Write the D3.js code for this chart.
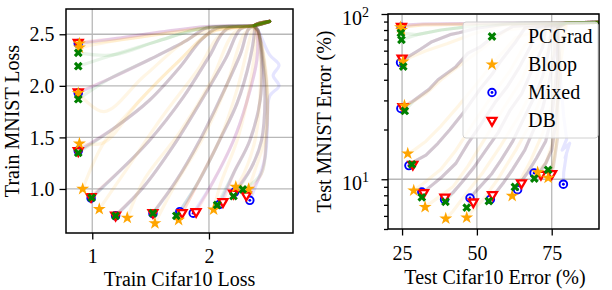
<!DOCTYPE html>
<html><head><meta charset="utf-8">
<script src="https://cdn.jsdelivr.net/npm/d3@7"></script>
<style>body{margin:0;background:#fff} svg{display:block}</style>
</head><body>
<svg id="c" width="612" height="290"></svg>
<script>
// ---------- DATA ----------
const methods = ["PCGrad", "Bloop", "Mixed", "DB"];
const methodColors = {PCGrad: "green", Bloop: "orange", Mixed: "blue", DB: "red"};

// Left panel: train losses (x: Cifar10, y: MNIST)
const leftXTicks = [1, 2];
const leftYTicks = [1.0, 1.5, 2.0, 2.5];
const leftStart = [[2.52, 2.625], [2.39, 2.585]];
const leftPaths = [
  [[1.98, 2.575], [1.58, 2.52], [1.21, 2.46]],
  [[1.95, 2.56], [1.55, 2.43], [1.18, 2.3]],
  [[1.98, 2.56], [1.81, 2.44], [1.5, 2.26], [1.15, 2.07]],
  [[2.07, 2.56], [1.93, 2.44], [1.75, 2.18], [1.49, 1.86], [1.2, 1.6]],
  [[2.15, 2.55], [2.0, 2.28], [1.78, 1.89], [1.49, 1.47], [1.24, 1.18]],
  [[2.27, 2.55], [2.15, 2.28], [1.92, 1.83], [1.69, 1.41], [1.44, 1.02]],
  [[2.34, 2.55], [2.27, 2.31], [2.09, 1.86], [1.92, 1.47], [1.72, 1.08]],
  [[2.39, 2.53], [2.35, 2.25], [2.24, 1.83], [2.09, 1.47], [1.92, 1.09]],
  [[2.41, 2.53], [2.41, 2.25], [2.32, 1.83], [2.21, 1.47], [2.04, 1.08]],
  [[2.42, 2.53], [2.45, 2.25], [2.44, 1.87], [2.35, 1.47], [2.21, 1.15]],
  [[2.42, 2.54], [2.46, 2.25], [2.48, 1.87], [2.45, 1.47], [2.36, 1.2]],
  [[2.42, 2.54], [2.47, 2.25], [2.5, 1.87], [2.49, 1.47], [2.45, 1.15]],
  [[2.42, 2.54], [2.52, 2.3], [2.6, 2.2], [2.55, 2.1], [2.6, 2.0], [2.52, 1.9], [2.5, 1.6], [2.48, 1.3]]
];
// Bloop follows its own, slightly lower/left routes
const leftBloopPaths = [
  [[1.98, 2.56], [1.58, 2.5], [1.21, 2.44]],
  [[1.9, 2.5], [1.45, 2.1], [1.1, 1.75]],
  [[2.02, 2.52], [1.75, 2.25], [1.4, 1.85], [1.1, 1.45]],
  [[2.12, 2.52], [1.9, 2.15], [1.6, 1.7], [1.3, 1.2]],
  [[2.22, 2.52], [2.02, 2.05], [1.75, 1.55], [1.45, 1.1]],
  [[2.3, 2.5], [2.15, 2.0], [1.95, 1.5], [1.7, 1.02]],
  [[2.36, 2.5], [2.25, 2.0], [2.1, 1.5], [1.9, 1.05]],
  [[2.4, 2.5], [2.35, 2.0], [2.25, 1.5], [2.1, 1.05]],
  [[2.42, 2.5], [2.44, 2.0], [2.4, 1.5], [2.3, 1.15]],
  [[2.43, 2.5], [2.5, 2.0], [2.48, 1.5], [2.4, 1.2]]
];
// [x, y, path index]
const leftPCGrad = [[0.88,2.32,1],[0.88,2.19,1],[0.88,1.87,2],[0.88,1.35,3],[0.995,0.915,4],[1.2,0.74,5],[1.52,0.765,6],[1.72,0.74,7],[2.07,0.845,9],[2.21,0.93,10],[2.29,0.995,11]];
const leftBloop = [[0.89,2.41,0],[0.89,2.37,0],[0.88,1.93,1],[0.89,1.44,2],[0.918,1.0,2],[1.06,0.805,3],[1.3,0.72,4],[1.537,0.667,5],[1.74,0.70,6],[2.04,0.80,7],[2.23,1.02,8],[2.34,1.0,9]];
const leftMixed = [[0.88,2.41,0],[0.88,1.93,2],[0.88,1.37,3],[0.99,0.91,4],[1.2,0.74,5],[1.52,0.76,6],[1.75,0.78,7],[1.865,0.765,8],[2.09,0.85,9],[2.22,0.97,10],[2.35,0.89,12]];
const leftDB = [[0.88,2.42,0],[0.88,1.94,2],[0.88,1.37,3],[0.99,0.925,4],[1.2,0.745,5],[1.52,0.77,6],[1.77,0.77,7],[1.89,0.78,8],[2.12,0.876,9],[2.21,0.958,10],[2.32,0.94,11]];

// Right panel: test errors (%), y log
const rightXTicks = [25, 50, 75];
const rightYMajor = [10, 100];
const rightYMajorExp = ["1", "2"];
const rightYMinor = [5, 6, 7, 8, 9, 20, 30, 40, 50, 60, 70, 80, 90];
const rightStart = [[91, 89], [80, 88.5]];
const rightPaths = [
  [[60, 88], [45, 87.5], [32, 87], [27, 86]],
  [[65, 88], [50, 85], [38, 80], [30, 75]],
  [[60, 87], [50, 82], [44, 77], [41, 75], [35, 68], [31, 61], [27, 55]],
  [[62, 84], [55, 72], [51, 63], [47, 58], [43, 48], [37, 40], [34, 35], [29, 30]],
  [[66, 82], [63, 68], [58, 52], [55, 43], [51, 35], [46, 26], [41, 20], [37, 16.5], [33, 14], [29, 12.8]],
  [[70, 82], [68, 64], [64, 47], [60, 36], [56, 29], [51, 21], [47, 16.5], [43, 12.5], [38, 10.2], [34, 8.9]],
  [[73, 83], [72, 63], [68, 44], [65, 33], [61, 26], [57, 19], [53, 15], [49, 11.8], [45, 9.6], [42, 8.3]],
  [[75, 83], [74, 60], [72, 42], [69, 31], [66, 24], [62, 17], [58, 13], [55, 10.8], [51, 9.0], [49, 8.2]],
  [[76, 83], [76, 57], [74, 38], [72, 27], [69, 20], [66, 15], [62, 11.5], [59, 9.6], [57, 8.6]],
  [[77, 83], [77, 52], [76, 34], [75, 24], [73, 17], [70, 13.5], [67, 11], [65, 9.8]],
  [[77, 82], [77, 47], [77, 30], [76, 20], [75, 15], [73, 12.5], [71.5, 11.4]],
  [[77, 82], [78, 44], [77, 28], [77, 18], [76, 13.5], [75.5, 11.8]],
  [[77, 82], [78, 40], [79, 24], [80, 17.5], [78.5, 15], [81, 16.5], [79.5, 13.5], [80, 14.5], [79, 11]]
];
const rightBloopPaths = [
  [[60, 87], [45, 86.5], [32, 86], [27, 84]],
  [[58, 85], [48, 75], [40, 66], [33, 60], [28, 55]],
  [[60, 80], [52, 62], [45, 50], [38, 40], [33, 33], [28, 29]],
  [[63, 72], [56, 52], [50, 38], [44, 28], [38, 21], [33, 17], [29, 15]],
  [[66, 65], [61, 45], [55, 32], [49, 22], [43, 15], [38, 11.5], [32, 9.4]],
  [[69, 60], [65, 40], [59, 27], [53, 18], [47, 12], [42, 9], [36, 7.5]],
  [[72, 55], [69, 36], [64, 24], [58, 16], [52, 11], [46, 8], [42, 6.4]],
  [[74, 50], [72, 33], [68, 22], [63, 15], [57, 10], [52, 7.5], [48, 6.3]],
  [[76, 45], [75, 28], [72, 19], [68, 13], [64, 9.5]],
  [[77, 40], [76, 24], [75, 16], [73, 12.5], [71, 11.5]],
  [[77, 38], [77, 22], [76, 15], [75, 11.5]]
];
const rightPCGrad = [[24.6,76.7,1],[24.8,69.8,1],[25.4,48.1,2],[25.9,25.9,3],[28.3,12.3,4],[31.6,7.78,5],[39.5,7.3,6],[46.6,6.73,7],[54.0,7.38,8],[62.7,8.98,9],[69.2,10.1,10],[73.8,11.4,11]];
const rightBloop = [[24.5,83,0],[24.8,80,0],[25.3,51.5,1],[25.8,27.9,2],[26.9,14.3,3],[28.9,8.55,4],[32.7,6.79,5],[39.6,5.78,6],[46.6,5.86,7],[61.8,7.93,8],[70.3,11.0,9],[73.8,10.2,10]];
const rightMixed = [[24.7,83,0],[24.5,50.8,2],[24.6,26.8,3],[27.3,12.1,4],[31.6,8.37,5],[39.2,7.55,6],[47.7,7.7,7],[54.5,7.55,8],[63.6,8.65,9],[69.1,10.9,10],[78.9,9.33,12]];
const rightDB = [[24.8,84,0],[25.0,54.1,2],[25.3,27.5,3],[28.6,12.3,4],[32.2,8.3,5],[39.3,7.78,6],[48.8,7.28,7],[55.2,8.07,8],[64.9,9.5,9],[71.4,10.7,10],[75.0,10.8,11]];

// ---------- DRAW ----------
const svg = d3.select("#c");
const FONT = "'Liberation Serif','Times New Roman',Times,serif";
svg.style("font-family", FONT);

const L = {x0: 66, x1: 293, y0: 9, y1: 233};
const R = {x0: 388, x1: 599, y0: 14, y1: 229};
const xL = d3.scaleLinear().domain([0.775, 2.72]).range([L.x0, L.x1]);
const yL = d3.scaleLinear().domain([0.573, 2.745]).range([L.y1, L.y0]);
const xR = d3.scaleLinear().domain([20.3, 90.8]).range([R.x0, R.x1]);
const yR = d3.scaleLog().domain([5, 100]).range([R.y1, R.y0]);

const defs = svg.append("defs");
defs.append("clipPath").attr("id", "clipL").append("rect")
  .attr("x", L.x0).attr("y", L.y0).attr("width", L.x1 - L.x0).attr("height", L.y1 - L.y0);
defs.append("clipPath").attr("id", "clipR").append("rect")
  .attr("x", R.x0).attr("y", R.y0).attr("width", R.x1 - R.x0).attr("height", R.y1 - R.y0);

const GRID = "#b8b8b8";
function grid(g, xs, ys, xScale, yScale, box) {
  g.selectAll("line.gx").data(xs).join("line")
    .attr("x1", d => xScale(d)).attr("x2", d => xScale(d))
    .attr("y1", box.y0).attr("y2", box.y1)
    .attr("stroke", GRID).attr("stroke-width", 1.3);
  g.selectAll("line.gy").data(ys).join("line")
    .attr("y1", d => yScale(d)).attr("y2", d => yScale(d))
    .attr("x1", box.x0).attr("x2", box.x1)
    .attr("stroke", GRID).attr("stroke-width", 1.3);
}
const gGridL = svg.append("g"); grid(gGridL, leftXTicks, leftYTicks, xL, yL, L);
const gGridR = svg.append("g"); grid(gGridR, rightXTicks, rightYMajor, xR, yR, R);

const leftEnds = {PCGrad: leftPCGrad, Bloop: leftBloop, Mixed: leftMixed, DB: leftDB};
const rightEnds = {PCGrad: rightPCGrad, Bloop: rightBloop, Mixed: rightMixed, DB: rightDB};
const lineOpacity = {PCGrad: 0.09, Bloop: 0.1, Mixed: 0.1, DB: 0.1};

function drawLines(clipId, ends, start, paths, bloopPaths, xs, ys, curve) {
  const g = svg.append("g").attr("clip-path", `url(#${clipId})`);
  const line = d3.line().x(d => xs(d[0])).y(d => ys(d[1])).curve(curve);
  ["Mixed", "DB", "Bloop", "PCGrad"].forEach(m => {
    const P = m === "Bloop" ? bloopPaths : paths;
    ends[m].forEach(e => {
      const pts = start.concat(P[e[2]]).concat([[e[0], e[1]]]);
      g.append("path").attr("d", line(pts))
        .attr("fill", "none").attr("stroke", methodColors[m])
        .attr("stroke-opacity", lineOpacity[m]).attr("stroke-width", 3.2)
        .attr("stroke-linejoin", "round").attr("stroke-linecap", "round");
    });
  });
  return g;
}
drawLines("clipL", leftEnds, leftStart, leftPaths, leftBloopPaths, xL, yL, d3.curveCatmullRom.alpha(0.5));
drawLines("clipR", rightEnds, rightStart, rightPaths, rightBloopPaths, xR, yR, d3.curveLinear);

function marker(g, m, x, y) {
  const c = methodColors[m];
  if (m === "PCGrad") {
    g.append("path").attr("d", d3.symbol(d3.symbolCross, 48)())
      .attr("transform", `translate(${x},${y}) rotate(45)`).attr("fill", c);
  } else if (m === "Bloop") {
    g.append("path").attr("d", d3.symbol(d3.symbolStar, 52)())
      .attr("transform", `translate(${x},${y})`).attr("fill", c);
  } else if (m === "Mixed") {
    g.append("circle").attr("cx", x).attr("cy", y).attr("r", 3.8)
      .attr("fill", "white").attr("stroke", c).attr("stroke-width", 1.9);
    g.append("circle").attr("cx", x).attr("cy", y).attr("r", 1.4).attr("fill", c);
  } else {
    g.append("path").attr("d", d3.symbol(d3.symbolTriangle, 34)())
      .attr("transform", `translate(${x},${y}) rotate(180)`)
      .attr("fill", "white").attr("stroke", c).attr("stroke-width", 2.3)
      .attr("stroke-linejoin", "miter");
  }
}
function drawMarkers(ends, xs, ys) {
  const g = svg.append("g");
  ["Mixed", "DB", "Bloop", "PCGrad"].forEach(m => {
    ends[m].forEach(e => marker(g, m, xs(e[0]), ys(e[1])));
  });
}
drawMarkers(leftEnds, xL, yL);
drawMarkers(rightEnds, xR, yR);

// axes
function styleAxis(g) {
  g.select(".domain").remove();
  g.selectAll(".tick line").attr("stroke", "black").attr("stroke-width", 1.3);
  g.selectAll("text").attr("font-family", FONT).attr("font-size", 20).attr("fill", "black");
}
const axLB = svg.append("g").attr("transform", `translate(0,${L.y1})`)
  .call(d3.axisBottom(xL).tickValues(leftXTicks).tickFormat(d3.format("d")).tickSize(6.5));
styleAxis(axLB); axLB.selectAll("text").attr("y", 30).attr("dy", 0);
const axLL = svg.append("g").attr("transform", `translate(${L.x0},0)`)
  .call(d3.axisLeft(yL).tickValues(leftYTicks).tickFormat(d3.format(".1f")).tickSize(6.5).tickPadding(5));
styleAxis(axLL); axLL.selectAll("text").attr("dy", "0.33em");

const axRB = svg.append("g").attr("transform", `translate(0,${R.y1})`)
  .call(d3.axisBottom(xR).tickValues(rightXTicks).tickFormat(d3.format("d")).tickSize(6.5));
styleAxis(axRB); axRB.selectAll("text").attr("y", 31).attr("dy", 0);
const axRLmin = svg.append("g").attr("transform", `translate(${R.x0},0)`)
  .call(d3.axisLeft(yR).tickValues(rightYMinor).tickFormat("").tickSize(4));
styleAxis(axRLmin);
const axRL = svg.append("g").attr("transform", `translate(${R.x0},0)`)
  .call(d3.axisLeft(yR).tickValues(rightYMajor).tickFormat("").tickSize(6.5));
styleAxis(axRL);
rightYMajor.forEach((v, i) => {
  const t = svg.append("text").attr("x", 369).attr("y", yR(v) + 11)
    .attr("text-anchor", "end").attr("font-size", 20).attr("fill", "black");
  t.append("tspan").text("10");
  t.append("tspan").attr("font-size", 14).attr("dy", -8.3).text(rightYMajorExp[i]);
});

// spines
[L, R].forEach(b => svg.append("rect").attr("x", b.x0).attr("y", b.y0)
  .attr("width", b.x1 - b.x0).attr("height", b.y1 - b.y0)
  .attr("fill", "none").attr("stroke", "black").attr("stroke-width", 1.5));

// axis titles
svg.append("text").attr("x", (L.x0 + L.x1) / 2).attr("y", 286).attr("text-anchor", "middle")
  .attr("font-size", 20).text("Train Cifar10 Loss");
svg.append("text").attr("transform", `translate(19,${(L.y0 + L.y1) / 2}) rotate(-90)`)
  .attr("text-anchor", "middle").attr("font-size", 20).text("Train MNIST Loss");
svg.append("text").attr("x", 495).attr("y", 284).attr("text-anchor", "middle")
  .attr("font-size", 20).text("Test Cifar10 Error (%)");
svg.append("text").attr("transform", `translate(331,${(R.y0 + R.y1) / 2}) rotate(-90)`)
  .attr("text-anchor", "middle").attr("font-size", 20).text("Test MNIST Error (%)");

// legend
const leg = svg.append("g");
leg.append("rect").attr("x", 463).attr("y", 22).attr("width", 135).attr("height", 116)
  .attr("rx", 3).attr("fill", "white").attr("fill-opacity", 0.8)
  .attr("stroke", "#d0d0d0").attr("stroke-width", 1);
methods.forEach((m, i) => {
  const cy = 36.5 + i * 28;
  marker(leg, m, 492, cy);
  leg.append("text").attr("x", 528).attr("y", cy + 6.6).attr("font-size", 20).text(m);
});
</script>
</body></html>
